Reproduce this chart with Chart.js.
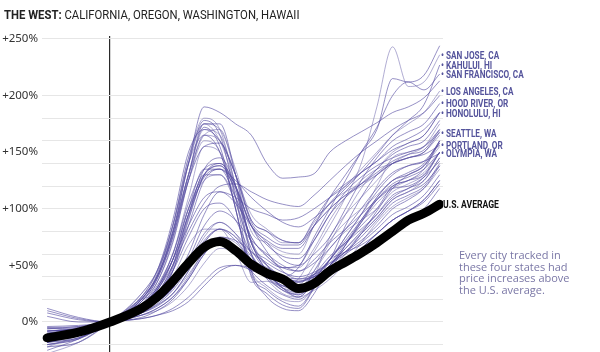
<!DOCTYPE html>
<html>
<head>
<meta charset="utf-8">
<script src="https://cdn.jsdelivr.net/npm/chart.js@4.4.1/dist/chart.umd.min.js"></script>
<style>
  body { margin: 0; background: #fff; }
  #wrap { position: relative; width: 600px; height: 352px; overflow: hidden; font-family: Roboto, "DejaVu Sans", sans-serif; }
  #title { position: absolute; left: 4px; top: 7px; font-size: 13px; color: #222; white-space: nowrap; transform: scaleX(0.87); transform-origin: left center; }
  canvas { position: absolute; left: 0; top: 0; }
  .city { position: absolute; left: 441px; font-size: 10px; font-weight: 700; color: #55549c; white-space: nowrap; transform: translateY(-50%) scaleX(0.82); transform-origin: left center; }
  .city.avg { left: 443px; color: #111; font-size: 10.5px; }
  #note { position: absolute; left: 459px; top: 249px; font: 11px/11.7px "Open Sans", sans-serif; color: #7a77a6; }
</style>
</head>
<body>
<div id="wrap">
  <canvas id="chart" width="600" height="352"></canvas>
  <div id="title"><b>THE WEST:</b> CALIFORNIA, OREGON, WASHINGTON, HAWAII</div>
  <div id="labels"></div>
  <div id="note">Every city tracked in<br>these four states had<br>price increases above<br>the U.S. average.</div>
</div>
<script>
const years = [1996, 1998, 2000, 2002, 2003, 2004, 2005, 2006, 2007, 2008, 2009, 2010, 2011, 2012, 2013, 2014, 2015, 2016, 2017, 2018, 2019, 2020, 2021];

const usAverage = [-14, -9, 0, 12, 22, 36, 52, 66, 71, 63, 51, 43, 38, 29.5, 34, 45, 53, 61, 70, 80, 90, 96, 104];

const labelledCities = ['SAN JOSE, CA', 'KAHULUI, HI', 'SAN FRANCISCO, CA', 'LOS ANGELES, CA', 'HOOD RIVER, OR', 'HONOLULU, HI', 'SEATTLE, WA', 'PORTLAND, OR', 'OLYMPIA, WA'];

const labelledValues = [
  [-28, -18, 0, 20, 25, 40, 68, 82, 82, 62, 35, 36, 32, 38, 62, 85, 110, 140, 190, 243, 208, 212, 236],
  [12, 4, 0, 14, 30, 55, 95, 128, 135, 125, 110, 98, 88, 84, 92, 104, 118, 132, 148, 165, 178, 192, 227],
  [-25, -15, 0, 12, 18, 30, 55, 68, 72, 62, 45, 44, 40, 48, 75, 100, 125, 150, 172, 200, 212, 205, 219],
  [-5, -8, 0, 25, 45, 80, 130, 165, 170, 130, 80, 70, 62, 60, 85, 105, 120, 135, 150, 165, 175, 185, 204],
  [-15, -10, 0, 10, 20, 35, 60, 95, 115, 105, 85, 70, 55, 50, 60, 75, 100, 125, 145, 160, 168, 175, 193],
  [8, 2, 0, 15, 30, 55, 85, 110, 115, 110, 100, 95, 90, 92, 100, 110, 120, 132, 142, 155, 162, 170, 185],
  [-22, -12, 0, 12, 20, 30, 50, 75, 88, 78, 55, 40, 30, 28, 42, 55, 75, 95, 120, 145, 150, 155, 167],
  [-18, -8, 0, 8, 14, 25, 45, 70, 82, 72, 55, 42, 32, 30, 40, 55, 85, 110, 130, 140, 145, 148, 156],
  [-15, -8, 0, 10, 18, 30, 52, 78, 88, 78, 62, 50, 40, 36, 42, 55, 75, 95, 115, 130, 138, 142, 149]
];

const otherValues = [
  [5, 0, 0, 20, 40, 80, 140, 190, 185, 175, 165, 140, 127, 128, 131, 150, 160, 168, 176, 185, 190, 198, 213],
  [10, 3, 0, 12, 28, 50, 80, 105, 120, 122, 115, 108, 104, 102, 112, 125, 138, 150, 160, 170, 178, 185, 200],
  [-22, -18, 0, 20, 40, 80, 130, 170, 165, 120, 60, 45, 35, 30, 45, 65, 80, 90, 100, 115, 122, 130, 150],
  [-20, -15, 0, 18, 35, 70, 125, 165, 150, 100, 40, 25, 15, 12, 30, 55, 70, 85, 100, 120, 125, 135, 160],
  [-18, -14, 0, 22, 40, 78, 130, 172, 155, 100, 42, 28, 18, 14, 30, 50, 65, 80, 95, 112, 118, 128, 150],
  [-20, -15, 0, 22, 45, 85, 140, 175, 160, 120, 70, 50, 38, 33, 50, 72, 88, 100, 112, 125, 130, 138, 158],
  [-10, -8, 0, 12, 25, 50, 95, 135, 145, 120, 70, 45, 30, 22, 35, 50, 62, 72, 85, 100, 108, 118, 138],
  [-8, -6, 0, 10, 22, 45, 90, 130, 140, 120, 72, 50, 35, 28, 38, 55, 62, 68, 78, 90, 98, 108, 125],
  [-22, -18, 0, 25, 45, 85, 145, 180, 170, 120, 60, 38, 25, 22, 40, 75, 95, 110, 125, 140, 148, 155, 175],
  [-15, -12, 0, 20, 40, 78, 140, 178, 165, 110, 45, 22, 12, 10, 25, 50, 62, 75, 90, 105, 112, 120, 140],
  [-15, -12, 0, 18, 38, 75, 130, 175, 175, 130, 70, 55, 48, 50, 72, 95, 110, 122, 135, 148, 155, 160, 178],
  [-18, -14, 0, 15, 30, 60, 100, 125, 130, 110, 75, 58, 48, 48, 65, 90, 110, 125, 135, 140, 145, 150, 165],
  [-16, -12, 0, 16, 32, 60, 105, 135, 140, 120, 85, 68, 58, 56, 72, 95, 115, 128, 138, 145, 150, 155, 170],
  [-20, -14, 0, 22, 45, 90, 150, 170, 160, 130, 90, 80, 72, 70, 90, 110, 122, 132, 142, 152, 158, 165, 185],
  [-15, -12, 0, 20, 42, 85, 145, 175, 170, 135, 90, 80, 70, 70, 88, 105, 115, 122, 130, 140, 145, 150, 168],
  [-18, -12, 0, 15, 28, 55, 100, 130, 138, 120, 85, 72, 65, 65, 85, 110, 130, 150, 170, 215, 212, 218, 244],
  [-12, -8, 0, 18, 38, 75, 125, 155, 158, 130, 88, 75, 68, 68, 85, 100, 112, 122, 132, 142, 148, 152, 170],
  [-10, -8, 0, 20, 42, 85, 140, 165, 160, 130, 95, 82, 72, 70, 85, 100, 112, 120, 130, 140, 145, 150, 168],
  [-5, -4, 0, 10, 25, 50, 95, 130, 130, 105, 65, 45, 35, 30, 42, 58, 70, 82, 95, 110, 118, 125, 145],
  [-8, -6, 0, 12, 28, 55, 100, 135, 135, 110, 75, 58, 48, 45, 55, 70, 82, 95, 108, 118, 120, 128, 142],
  [-12, -10, 0, 15, 35, 72, 125, 160, 150, 100, 45, 30, 20, 18, 30, 50, 65, 78, 92, 108, 115, 125, 145],
  [-6, -5, 0, 10, 22, 48, 92, 130, 138, 115, 70, 45, 30, 24, 35, 50, 60, 70, 82, 95, 102, 112, 130],
  [-4, -3, 0, 8, 20, 45, 85, 125, 135, 118, 85, 62, 45, 38, 40, 48, 55, 62, 72, 82, 90, 100, 118],
  [-12, -6, 0, 8, 15, 25, 42, 62, 75, 70, 55, 45, 38, 35, 42, 52, 70, 88, 105, 118, 125, 132, 150],
  [-10, -5, 0, 6, 12, 22, 40, 62, 72, 65, 45, 32, 24, 20, 30, 45, 68, 90, 110, 125, 132, 140, 160],
  [-14, -8, 0, 12, 25, 45, 75, 100, 105, 90, 60, 42, 32, 28, 38, 55, 72, 90, 108, 120, 125, 130, 150],
  [-18, -10, 0, 15, 30, 60, 110, 155, 150, 110, 60, 40, 28, 25, 45, 70, 95, 118, 135, 150, 158, 165, 185],
  [-8, -6, 0, 4, 10, 20, 38, 60, 72, 66, 55, 48, 40, 36, 40, 48, 60, 78, 98, 118, 130, 138, 160],
  [-14, -8, 0, 10, 18, 30, 55, 85, 98, 90, 72, 60, 50, 45, 52, 65, 82, 100, 118, 132, 138, 142, 158],
  [-12, -8, 0, 8, 15, 25, 45, 70, 82, 75, 55, 40, 28, 24, 36, 50, 68, 88, 110, 125, 130, 138, 155],
  [-14, -8, 0, 8, 16, 28, 48, 72, 82, 75, 58, 42, 30, 26, 36, 50, 68, 88, 108, 122, 128, 135, 150],
  [-10, -6, 0, 6, 12, 22, 38, 60, 75, 72, 62, 52, 44, 40, 44, 52, 62, 78, 92, 108, 115, 122, 138],
  [-12, -8, 0, 6, 10, 18, 32, 52, 65, 62, 50, 38, 28, 22, 28, 38, 52, 70, 88, 102, 110, 118, 135],
  [-6, -4, 0, 3, 6, 10, 18, 32, 45, 50, 48, 45, 40, 38, 42, 48, 55, 65, 78, 90, 98, 108, 125],
  [-8, -6, 0, 3, 6, 12, 22, 36, 48, 50, 46, 42, 38, 35, 40, 46, 55, 65, 78, 90, 98, 106, 122]
];

const yTicks = [-20, 0, 20, 40, 50, 60, 80, 100, 120, 140, 150, 160, 180, 200, 250];
const unlinedTicks = [50, 150];

const toPoints = values => values.map((v, i) => ({ x: years[i], y: v }));

const cityLine = (values, i) => ({
  data: toPoints(values),
  borderColor: i % 3 === 0 ? 'rgba(100, 92, 168, 0.5)' : 'rgba(80, 70, 158, 0.6)',
  borderWidth: 1,
  cubicInterpolationMode: 'monotone',
  order: 1,
});

const datasets = [
  {
    data: toPoints(usAverage),
    borderColor: '#000',
    borderWidth: 9,
    borderCapStyle: 'round',
    borderJoinStyle: 'round',
    cubicInterpolationMode: 'monotone',
    order: 0,
  },
  ...labelledValues.map(cityLine),
  ...otherValues.map((v, i) => cityLine(v, i + 1)),
];

const chart = new Chart(document.querySelector('#chart'), {
  type: 'line',
  data: { datasets },
  options: {
    responsive: false,
    animation: false,
    layout: { padding: { top: 36, right: 157, bottom: 0, left: 0 } },
    elements: { point: { radius: 0 } },
    plugins: { legend: { display: false }, tooltip: { enabled: false } },
    scales: {
      x: {
        type: 'linear',
        min: 1995.67,
        max: 2021.21,
        afterBuildTicks: scale => { scale.ticks = [{ value: 2000 }]; },
        afterFit: scale => {
          scale.height = 0;
          scale.paddingLeft = scale.paddingRight = 0;
        },
        grid: { color: '#2a2a2a', lineWidth: 1.2, drawTicks: false },
        border: { display: false },
        ticks: { display: false },
      },
      y: {
        min: -26.5,
        max: 252.6,
        afterBuildTicks: scale => { scale.ticks = yTicks.map(value => ({ value })); },
        afterFit: scale => {
          scale.width = 42;
          scale.paddingTop = scale.paddingBottom = 0;
        },
        grid: {
          color: ctx => unlinedTicks.includes(ctx.tick.value) ? 'rgba(0,0,0,0)' : '#e6e6e6',
          drawTicks: false,
        },
        border: { display: false },
        ticks: {
          autoSkip: false,
          padding: 4,
          color: '#333',
          font: { family: '"Noto Sans", sans-serif', size: 11.5 },
          callback: value => value % 50 === 0 ? `${value > 0 ? '+' : ''}${value}%` : '',
        },
      },
    },
  },
});

const labels = document.querySelector('#labels');
const yScale = chart.scales.y;

labelledCities.forEach((name, i) => {
  const div = document.createElement('div');
  div.className = 'city';
  div.textContent = `• ${name}`;
  div.style.top = `${yScale.getPixelForValue(labelledValues[i].at(-1))}px`;
  labels.appendChild(div);
});

const avgLabel = document.createElement('div');
avgLabel.className = 'city avg';
avgLabel.textContent = 'U.S. AVERAGE';
avgLabel.style.top = `${yScale.getPixelForValue(usAverage.at(-1))}px`;
labels.appendChild(avgLabel);
</script>
</body>
</html>
